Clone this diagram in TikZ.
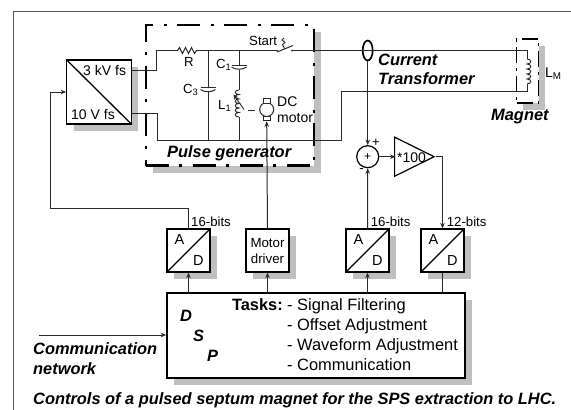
\documentclass[tikz,border=0pt]{standalone}
\usepackage{fontspec}
\setmainfont{Liberation Sans}
\usetikzlibrary{arrows.meta,shapes.geometric,shadows}
\definecolor{shade}{HTML}{BFBFBF}
\definecolor{wire}{HTML}{2A2A2A}
\tikzset{
  wireline/.style={draw=wire,line width=1pt},
  arr/.style={wireline,-{Stealth[length=5.5pt,width=4.5pt]}},
  shadowbox/.style={draw=black,fill=white,line width=1.3pt,inner sep=0pt,
    drop shadow={shadow xshift=7pt,shadow yshift=-7pt,fill=shade,opacity=1}},
  conv/.style={shadowbox,minimum width=43pt,minimum height=43pt,align=center},
  txt/.style={inner sep=0pt,anchor=base west,font=\fontsize{14}{14}\selectfont},
  small/.style={inner sep=0pt,anchor=base west,font=\fontsize{13.2}{13.2}\selectfont},
  list/.style={inner sep=0pt,anchor=base west,font=\fontsize{16.4}{16.4}\selectfont},
  bi/.style={inner sep=0pt,anchor=base west,font=\fontsize{16.4}{16.4}\selectfont\bfseries\itshape},
  dashdot/.style={line width=2.2pt,dash pattern=on 23pt off 10pt on 3pt off 11pt},
  thin part/.style={draw=wire,line width=0.9pt}
}
\begin{document}
\begin{tikzpicture}[x=1pt,y=-1pt]
\useasboundingbox (0,0) rectangle (571,410);
\fill[white] (0,0) rectangle (571,410);
\draw[draw=black!65,line width=0.9pt] (13.5,410) -- (13.5,11.5) -- (571,11.5);

% boxes
\node[draw=black,fill=white,dashdot,inner sep=0pt,minimum width=168pt,minimum height=140.5pt,
  drop shadow={shadow xshift=7pt,shadow yshift=-7pt,fill=shade,opacity=1}] (pulse) at (230.25,95.25) {};
\node[draw=black,fill=white,line width=1.2pt,dash pattern=on 16pt off 5pt on 3pt off 5pt,inner sep=0pt,minimum width=22pt,minimum height=64pt,
  drop shadow={shadow xshift=6.5pt,shadow yshift=-7pt,fill=shade,opacity=1}] (magnet) at (527.7,71) {};
\node[shadowbox,minimum width=64.5pt,minimum height=64pt] (adc) at (99,92) {};
\node[conv] (ad1) at (188.5,250.5) {};
\node[conv,font=\fontsize{13.3}{16}\selectfont] (drv) at (267.5,250.5) {Motor\\driver};
\node[conv] (ad2) at (367.5,250.5) {};
\node[conv] (ad3) at (442.5,250.5) {};
\node[shadowbox,line width=1.7pt,minimum width=298pt,minimum height=85pt] (dsp) at (316,335.5) {};

% diagonals
\draw[line width=1.3pt] (adc.north west) -- (adc.south east);
\foreach \n in {ad1,ad2,ad3} \draw[line width=1.3pt] (\n.south west) -- (\n.north east);

% feedback and control lines
\coordinate (dspa) at (188.5,293);
\coordinate (dspb) at (267.5,293);
\coordinate (dspc) at (367.5,293);
\coordinate (dspd) at (442.5,293);
\coordinate (netin) at (39,335);
\draw[arr] (dspa) -- (ad1.south);
\draw[arr] (dspb) -- (drv.south);
\draw[arr] (dspc) -- (ad2.south);
\draw[wireline] (dspd) -- (ad3.south);
\draw[arr] (netin) -- (netin -| dsp.west);
\coordinate (fbk) at (50,92);
\draw[arr] (ad1.north) |- (50,208.5) -- (fbk) -- (adc.west);

% sum, amplifier, transformer
\node[draw=black,fill=white,circle,line width=1.2pt,minimum size=22pt,inner sep=0pt,font=\fontsize{12}{12}\selectfont] (sum) at (367.7,156.7) {+};
\node[draw=black,fill=white,isosceles triangle,isosceles triangle apex angle=52.6,line width=1.2pt,minimum height=39.5pt,inner sep=0pt,anchor=apex] (amp) at (435.5,156.7) {};
\node[draw=black,ellipse,line width=1.7pt,minimum width=10pt,minimum height=20pt,inner sep=0pt] (ct) at (367.7,50.5) {};
\draw[arr] (ct.south) -- (sum.north);
\draw[arr] (ad2.north) -- (sum.south);
\draw[arr] (sum.east) -- (395.5,156.7);
\draw[arr] (amp.apex) -- (442.5,156.7) -- (ad3.north);

% power circuit
\coordinate (topl) at (156.5,50.5);
\coordinate (rl) at (177.5,50.5);
\coordinate (rr) at (198,50.5);
\coordinate (jc3) at (208,50.5);
\coordinate (jc1) at (239,50.5);
\coordinate (swl) at (277,50.5);
\coordinate (swr) at (292,50.5);
\coordinate (coilt) at (527,50.5);
\coordinate (botl) at (157,140);
\coordinate (jb3) at (208,140);
\coordinate (jb1) at (239,140);
\coordinate (retx) at (341,140);
\coordinate (rety) at (341,91);
\coordinate (coilb) at (527,91);
\draw[wireline] (131,70) -- (156.5,70) -- (topl) -- (rl);
\draw[wireline] (rl) -- (179.5,47.5) -- (182.5,53.5) -- (185.5,47.5) -- (188.5,53.5) -- (191.5,47.5) -- (194.5,53.5) -- (196.5,50.5) -- (rr);
\draw[wireline] (rr) -- (swl);
\draw[wireline] (swr) -- (coilt) -- (527,59);
\draw[wireline] (131,113) -- (157,113) -- (botl) -- (retx) -- (rety) -- (coilb) -- (527,84);
\draw[wireline] (jc3) -- (208,87);
\draw[wireline] (208,91) -- (jb3);
\draw[wireline] (jc1) -- (239,65);
\draw[wireline] (239,69.5) -- (239,90);
\draw[wireline] (239,117) -- (jb1);
% capacitors
\draw[wireline] (200.5,87.5) -- (215.5,87.5);
\draw[wireline] (200.5,89.5) .. controls (204,92.5) and (212,92.5) .. (215.5,89.5);
\draw[wireline] (231.5,65) -- (246.5,65);
\draw[wireline] (231.5,67) .. controls (235,70) and (243,70) .. (246.5,67);
% L1
\draw[thin part] (239,90) .. controls (234,90) and (234,94.5) .. (239,94.5)
  .. controls (234,94.5) and (234,99) .. (239,99)
  .. controls (234,99) and (234,103.5) .. (239,103.5)
  .. controls (234,103.5) and (234,108) .. (239,108)
  .. controls (234,108) and (234,112.5) .. (239,112.5)
  .. controls (234,112.5) and (234,117) .. (239,117);
\draw[thin part,{Stealth[length=5pt,width=4.5pt]}-] (233.5,94.5) -- (244,109.5);
\draw[thin part] (248,110) -- (255,110);
% motor
\node[draw=wire,circle,fill=white,line width=1pt,minimum size=14pt,inner sep=0pt] (mot) at (266.7,109.5) {};
\node[draw=wire,fill=white,line width=1pt,minimum width=7pt,minimum height=4.5pt,inner sep=0pt] (bt) at (266.7,101) {};
\node[draw=wire,fill=white,line width=1pt,minimum width=7pt,minimum height=4.5pt,inner sep=0pt] (bb) at (266.7,118.5) {};
\draw[arr] (drv.north) -- (bb.south);
% switch
\fill[wire] (swl) circle (1pt) (swr) circle (1pt);
\draw[wireline] (277,52) -- (293,45.5);
\draw[thin part] (284,38) -- (282,40) -- (285,42.5) -- (282.5,44.5) -- (284.5,48.5);
% magnet coil
\draw[thin part] (527,59) .. controls (532,59) and (532,64) .. (527,64)
  .. controls (532,64) and (532,69) .. (527,69)
  .. controls (532,69) and (532,74) .. (527,74)
  .. controls (532,74) and (532,79) .. (527,79)
  .. controls (532,79) and (532,84) .. (527,84);

% texts
\node[txt] (t1) at (83,75) {3 kV\hspace{4pt}fs};
\node[txt] (t2) at (71,119) {10 V\hspace{4pt}fs};
\node[small] (t3) at (184,66) {R};
\node[small] (t4) at (216,68) {C\textsubscript{1}};
\node[small] (t5) at (183,93) {C\textsubscript{3}};
\node[small] (t6) at (218,109) {L\textsubscript{1}};
\node[small] (t7) at (249,45) {Start};
\node[small,font=\fontsize{14}{14}\selectfont] (t8) at (277,106.7) {DC};
\node[small,font=\fontsize{14}{14}\selectfont] (t9) at (277,122.7) {motor};
\node[small,font=\fontsize{14}{14}\selectfont] (t10) at (545,77) {L\textsubscript{M}};
\node[small] (t11) at (191,226) {16-bits};
\node[small] (t12) at (370.7,226) {16-bits};
\node[small] (t13) at (446.7,226) {12-bits};
\node[txt] (t14) at (397,162) {*100};
\node[font=\fontsize{13}{13}\selectfont,inner sep=0pt] (t15) at (376,143) {+};
\node[font=\fontsize{13}{13}\selectfont,inner sep=0pt] (t16) at (361.5,171) {-};
\foreach \n/\x in {a/174.5,b/353.5,c/428.5} \node[txt,font=\fontsize{14.5}{14.5}\selectfont] (A\n) at (\x,244.5) {A};
\foreach \n/\x in {a/193,b/372,c/447} \node[txt,font=\fontsize{14.5}{14.5}\selectfont] (D\n) at (\x,265) {D};
\node[bi] (ctlab) at (378,65) {Current};
\node[bi] (ctlab2) at (378,84) {Transformer};
\node[bi] (mag) at (491,120) {Magnet};
\node[bi] (pg) at (167,157.7) {Pulse generator};
\node[bi] (net1) at (33,354) {Communication};
\node[bi] (net2) at (33,374) {network};
\node[bi] (cap) at (33,404) {Controls of a pulsed septum magnet for the SPS extraction to LHC.};
\node[bi] (d1) at (180,321.7) {D};
\node[bi] (d2) at (193,341.7) {S};
\node[bi] (d3) at (207,361.7) {P};
\node[list,font=\fontsize{16.4}{16.4}\selectfont\bfseries,anchor=base east] (tk) at (283,310) {Tasks:};
\node[list] (l1) at (287,310) {- Signal Filtering};
\node[list] (l2) at (287,330) {- Offset Adjustment};
\node[list] (l3) at (287,350) {- Waveform Adjustment};
\node[list] (l4) at (287,370) {- Communication};
\end{tikzpicture}
\end{document}
